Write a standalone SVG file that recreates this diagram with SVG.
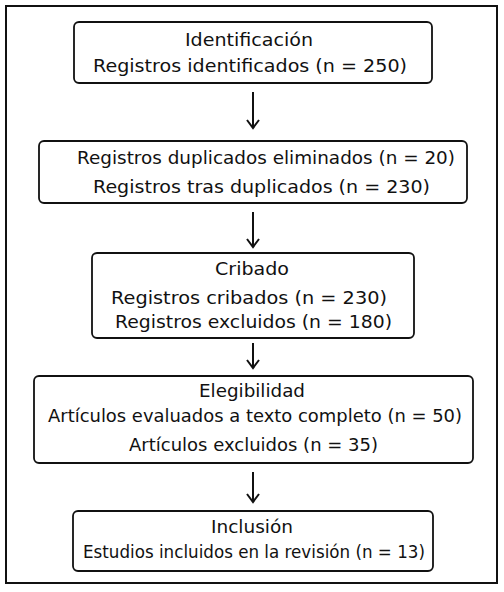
<svg xmlns="http://www.w3.org/2000/svg" width="504" height="592" viewBox="0 0 504 592">
<defs>
<style>
.box{fill:#fff;stroke:#111;stroke-width:1.8}
.t{font-family:"DejaVu Sans",sans-serif;font-size:18px;fill:#111;text-anchor:middle}
.conn line{stroke:#111;stroke-width:2}
.conn path{fill:none;stroke:#111;stroke-width:2}
</style>
</defs>
<rect x="0" y="0" width="504" height="592" fill="#fff"/>
<rect x="6" y="6" width="491" height="577" fill="none" stroke="#111" stroke-width="2"/>
<g id="n1">
<rect class="box" x="74" y="22" width="358" height="61" rx="5"/>
<text class="t" x="249" y="46" textLength="128" lengthAdjust="spacingAndGlyphs">Identificación</text>
<text class="t" x="250" y="72" textLength="314" lengthAdjust="spacingAndGlyphs">Registros identificados (n = 250)</text>
</g>
<g id="n2">
<rect class="box" x="39" y="141" width="428" height="62" rx="5"/>
<text class="t" x="266" y="164" textLength="378" lengthAdjust="spacingAndGlyphs">Registros duplicados eliminados (n = 20)</text>
<text class="t" x="261.5" y="193" textLength="337" lengthAdjust="spacingAndGlyphs">Registros tras duplicados (n = 230)</text>
</g>
<g id="n3">
<rect class="box" x="92" y="253" width="322" height="85" rx="5"/>
<text class="t" x="252" y="275" textLength="74" lengthAdjust="spacingAndGlyphs">Cribado</text>
<text class="t" x="249" y="304" textLength="276" lengthAdjust="spacingAndGlyphs">Registros cribados (n = 230)</text>
<text class="t" x="253.5" y="328" textLength="277" lengthAdjust="spacingAndGlyphs">Registros excluidos (n = 180)</text>
</g>
<g id="n4">
<rect class="box" x="34" y="376" width="439" height="87" rx="5"/>
<text class="t" x="252" y="397" textLength="106" lengthAdjust="spacingAndGlyphs">Elegibilidad</text>
<text class="t" x="255" y="422" textLength="414" lengthAdjust="spacingAndGlyphs">Artículos evaluados a texto completo (n = 50)</text>
<text class="t" x="253.5" y="451" textLength="249" lengthAdjust="spacingAndGlyphs">Artículos excluidos (n = 35)</text>
</g>
<g id="n5">
<rect class="box" x="73" y="511" width="360" height="60" rx="5"/>
<text class="t" x="252" y="533" textLength="82" lengthAdjust="spacingAndGlyphs">Inclusión</text>
<text class="t" x="254" y="558" textLength="342" lengthAdjust="spacingAndGlyphs">Estudios incluidos en la revisión (n = 13)</text>
</g>
<g id="connectors" class="conn">
<line x1="253" y1="92" x2="253" y2="127"/><path d="M247 120 L253 128 L259 120"/>
<line x1="253" y1="212" x2="253" y2="246"/><path d="M247 239 L253 247 L259 239"/>
<line x1="253" y1="343" x2="253" y2="367"/><path d="M247 360 L253 368 L259 360"/>
<line x1="253" y1="472" x2="253" y2="501"/><path d="M247 494 L253 502 L259 494"/>
</g>
</svg>
